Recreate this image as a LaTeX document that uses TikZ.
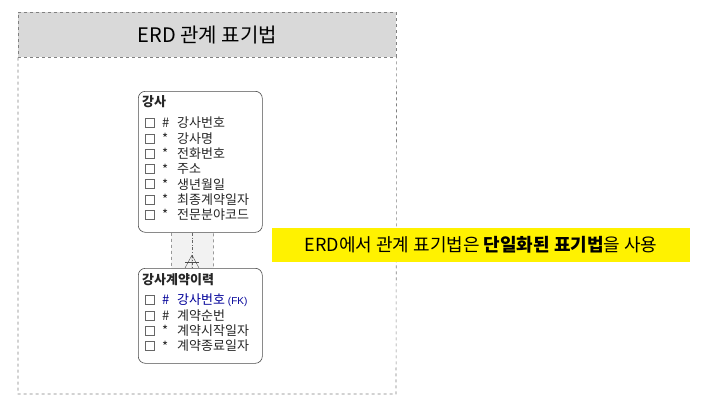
\documentclass[tikz,border=0pt]{standalone}
\usepackage{fontspec}
\setmainfont{Noto Sans CJK KR}
\newfontfamily\lsans{Liberation Sans}
\begin{document}
\begin{tikzpicture}[x=1pt,y=-1pt,
  ent/.style={draw=black!70,rounded corners=7pt,fill=white,line width=0.6pt},
  attr/.style={anchor=west,font=\fontsize{13}{14}\selectfont,inner sep=0pt,text=black!85},
  box/.style={draw=black!60,line width=0.5pt,minimum size=9pt,inner sep=0pt}]
\useasboundingbox (0,0) rectangle (721,408);
\node[draw=black!50,dashed,fill=black!15,minimum width=378pt,minimum height=45pt,anchor=north west,line width=0.6pt] (hdr) at (18,12) {};
\node[font=\fontsize{20}{22}\selectfont] (title) at (hdr.center) {ERD 관계 표기법};
\draw[black!50,dashed,line width=0.6pt] (hdr.south west) -- (18,394) -- (396,394) -- (hdr.south east);
\node[draw=black!60,dashed,rounded corners=6pt,fill=black!5,minimum width=42pt,minimum height=52pt,anchor=north west,line width=0.7pt] (rel) at (171,224) {};
\node[ent,minimum width=124pt,minimum height=141pt,anchor=north west] (e1) at (138,91) {};
\node[ent,minimum width=124pt,minimum height=95pt,anchor=north west] (e2) at (138,268) {};
\draw[black!60,dash dot] ([xshift=-8pt]e1.south) -- ([xshift=-8pt]e2.north);
\draw[black!70] (185,262) -- (199,262);
\draw[black!70] (192,255) -- (185,268) (192,255) -- (199,268) (192,255) -- (192,268);
\node[attr,font=\bfseries\fontsize{13}{14}\selectfont] (t1) at (142,102) {강사};
\foreach \i/\s/\t in {0/\#/강사번호,1/*/강사명,2/*/전화번호,3/*/주소,4/*/생년월일,5/*/최종계약일자,6/*/전문분야코드}{
  \node[box] (b1\i) at (150,{123+15.3*\i}) {};
  \node[attr] (s1\i) at (162,{123+15.3*\i}) {\s};
  \node[attr] (a1\i) at (177,{123+15.3*\i}) {\t};
}
\node[attr,font=\bfseries\fontsize{13}{14}\selectfont] (t2) at (142,280) {강사계약이력};
\node[box] (b20) at (150,300) {};
\node[attr,text=blue!60!black] (s20) at (162,300) {\#};
\node[attr,text=blue!60!black] (a20) at (177,300) {강사번호 {\lsans\fontsize{10}{11}\selectfont (FK)}};
\foreach \i/\s/\t in {1/\#/계약순번,2/*/계약시작일자,3/*/계약종료일자}{
  \node[box] (b2\i) at (150,{300+15.3*\i}) {};
  \node[attr] (s2\i) at (162,{300+15.3*\i}) {\s};
  \node[attr] (a2\i) at (177,{300+15.3*\i}) {\t};
}
\node[fill=yellow,anchor=west,minimum height=34pt,minimum width=418pt,font=\fontsize{18}{20}\selectfont] (note) at (272,245) {ERD에서 관계 표기법은 \textbf{단일화된 표기법}을 사용};
\end{tikzpicture}
\end{document}
